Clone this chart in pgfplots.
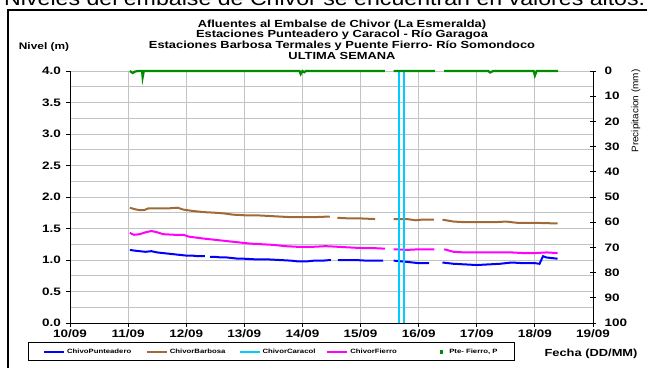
\documentclass[border=0pt]{standalone}
\usepackage{fontspec}
\setmainfont{Liberation Sans}[FakeStretch=1.25]
\newfontfamily\plainfont{Liberation Sans}[FakeStretch=1.05]
\usepackage{pgfplots}
\usepackage{pgfplotstable}
\pgfplotsset{compat=1.18}
\definecolor{cbrown}{RGB}{160,106,56}
\definecolor{ccyan}{RGB}{0,204,255}
\definecolor{cgreen}{RGB}{0,140,0}
\definecolor{cgrid}{RGB}{195,195,195}
\definecolor{cmag}{RGB}{255,0,255}
\definecolor{cblue}{RGB}{0,0,255}
\pgfplotsset{
  mylegline/.style={legend image code/.code={\draw[##1] (0pt,0pt) -- (20pt,0pt);}},
  mylegsq/.style={legend image code/.code={\path[draw=none,fill=none] (0pt,-1pt) rectangle (20pt,1pt); \fill[##1] (12.8pt,-1.2pt) rectangle (15.2pt,1.2pt);}},
}

\pgfplotstableread{
x y
11.03 1.16
11.10 1.15
11.20 1.14
11.30 1.13
11.40 1.14
11.50 1.12
11.60 1.11
11.70 1.10
11.80 1.09
11.90 1.08
12.00 1.07
12.10 1.07
12.20 1.06
12.32 1.06
12.36 nan
12.41 1.05
12.50 1.05
12.60 1.04
12.70 1.04
12.80 1.03
12.90 1.02
13.00 1.02
13.20 1.01
13.40 1.01
13.60 1.00
13.80 0.99
13.90 0.98
14.00 0.98
14.10 0.98
14.20 0.99
14.35 0.99
14.49 1.00
14.55 nan
14.61 1.00
14.70 1.00
14.90 1.00
15.10 0.99
15.39 0.99
15.45 nan
15.57 0.99
15.80 0.97
16.00 0.95
16.18 0.95
16.30 nan
16.41 0.96
16.60 0.94
16.80 0.93
17.00 0.92
17.20 0.93
17.40 0.94
17.60 0.96
17.80 0.95
18.00 0.95
18.08 0.94
18.14 1.06
18.20 1.04
18.30 1.03
18.39 1.02
}\punt

\pgfplotstableread{
x y
11.03 1.83
11.10 1.81
11.20 1.79
11.27 1.79
11.35 1.82
11.50 1.82
11.70 1.82
11.85 1.83
11.95 1.80
12.10 1.78
12.30 1.76
12.50 1.75
12.65 1.74
12.80 1.72
13.00 1.71
13.20 1.71
13.40 1.70
13.60 1.69
13.80 1.68
14.00 1.68
14.20 1.68
14.47 1.69
14.53 nan
14.60 1.67
14.80 1.66
15.00 1.66
15.25 1.65
15.40 nan
15.57 1.65
15.80 1.65
15.95 1.63
16.05 1.64
16.26 1.64
16.33 nan
16.41 1.64
16.60 1.61
16.80 1.60
17.00 1.60
17.30 1.60
17.50 1.61
17.70 1.59
18.00 1.59
18.39 1.58
}\barb

\pgfplotstableread{
x y
11.03 1.43
11.10 1.40
11.20 1.41
11.30 1.44
11.40 1.46
11.50 1.44
11.60 1.41
11.80 1.40
11.95 1.40
12.05 1.37
12.30 1.34
12.50 1.32
12.70 1.30
12.90 1.28
13.10 1.26
13.30 1.25
13.50 1.24
13.70 1.22
13.90 1.21
14.20 1.21
14.40 1.22
14.60 1.21
14.80 1.20
15.00 1.19
15.20 1.19
15.42 1.18
15.50 nan
15.57 1.17
15.80 1.16
16.00 1.17
16.27 1.17
16.35 nan
16.44 1.17
16.60 1.13
16.80 1.12
17.00 1.12
17.30 1.12
17.60 1.12
17.80 1.11
18.00 1.11
18.20 1.12
18.39 1.11
}\fierro

\pgfplotstableread{
x y
15.665 0
15.665 4.0
15.700 nan
15.745 4.0
15.745 0
}\cara

\pgfplotstableread{
x y
11.03 0
11.08 0.8
11.12 0.2
11.18 0
11.24 0
11.25 2.5
11.27 0
12.00 0
13.00 0
13.95 0
13.97 1.2
14.00 0
14.03 0.5
14.06 0
15.00 0
15.42 0
15.50 nan
15.57 0
16.28 0
16.36 nan
16.44 0
17.20 0
17.23 0.6
17.28 0
17.98 0
18.00 1.8
18.03 0
18.40 0
}\precip

\begin{document}
\begin{tikzpicture}[x=1pt,y=1pt]
\useasboundingbox (0,0) rectangle (647,367);
\draw[line width=1.3pt] (8,-5) -- (8,357) -- (655,357);
\node[anchor=base west, inner sep=0] at (4,361.3) {\resizebox{641pt}{14.5pt}{\plainfont Niveles del embalse de Chivor se encuentran en valores altos.}};

\begin{axis}[
  at={(70pt,44pt)}, anchor=south west,
  width=523pt, height=252pt, scale only axis,
  xmin=10, xmax=19, ymin=0, ymax=4,
  axis x line*=bottom, axis y line*=left,
  xtick={10,...,19},
  xticklabels={10/09,11/09,12/09,13/09,14/09,15/09,16/09,17/09,18/09,19/09},
  ytick={0,0.5,...,4},
  yticklabels={0.0,0.5,1.0,1.5,2.0,2.5,3.0,3.5,4.0},
  minor ytick={0.25,0.75,...,3.8},
  grid=both,
  major grid style={cgrid, line width=0.9pt},
  minor grid style={cgrid, line width=0.9pt},
  tick align=outside, major tick length=4pt, minor tick length=0pt,
  tick style={black, line width=0.8pt},
  axis line style={black, line width=1pt},
  ticklabel style={font=\fontsize{10.8}{12}\selectfont\bfseries},
  yticklabel style={xshift=-1.5pt},
  xticklabel style={yshift=0.5pt},
  unbounded coords=jump,
]
\addplot[cbrown, line width=2pt] table {\barb};
\addplot[cmag, line width=2pt] table {\fierro};
\addplot[cblue, line width=2pt] table {\punt};
\addplot[ccyan, line width=1.8pt] table {\cara};
\end{axis}

\begin{axis}[
  at={(70pt,44pt)}, anchor=south west,
  width=523pt, height=252pt, scale only axis,
  xmin=10, xmax=19, ymin=0, ymax=100, y dir=reverse,
  axis x line=none, axis y line*=right,
  ytick={0,10,...,100},
  tick align=center, major tick length=6pt,
  tick style={black, line width=0.8pt},
  axis line style={black, line width=1pt},
  ticklabel style={font=\fontsize{10.8}{12}\selectfont\bfseries},
  /pgf/number format/assume math mode=true,
  yticklabel style={anchor=west, xshift=5pt},
  unbounded coords=jump,
  clip=false,
  legend columns=5,
  legend cell align=left,
  legend style={at={(-0.0803,-0.1508)}, anchor=south west, draw=black, line width=0.6pt,
    font=\fontsize{6.2}{7}\selectfont\bfseries, inner xsep=15pt, inner ysep=4pt,
    nodes={inner sep=2pt}},
]
\addlegendimage{mylegline, cblue, line width=1.8pt}
\addlegendentry{\makebox[77pt][l]{ChivoPunteadero}}
\addlegendimage{mylegline, cbrown, line width=1.8pt}
\addlegendentry{\makebox[67pt][l]{ChivorBarbosa}}
\addlegendimage{mylegline, ccyan, line width=1.6pt}
\addlegendentry{\makebox[62pt][l]{ChivorCaracol}}
\addlegendimage{mylegline, cmag, line width=1.8pt}
\addlegendentry{\makebox[75pt][l]{ChivorFierro}}
\addlegendimage{mylegsq, cgreen}
\addlegendentry{Pte- Fierro, P}
\addplot[cgreen, line width=2.2pt, forget plot] table {\precip};
\end{axis}

\node[anchor=base, font=\fontsize{10.3}{12}\selectfont\bfseries] at (342,339.7) {Afluentes al Embalse de Chivor (La Esmeralda)};
\node[anchor=base, font=\fontsize{10.3}{12}\selectfont\bfseries] at (342,329.3) {Estaciones Punteadero y Caracol - Río Garagoa};
\node[anchor=base, font=\fontsize{10.3}{12}\selectfont\bfseries] at (342,318.2) {Estaciones Barbosa Termales y Puente Fierro- Río Somondoco};
\node[anchor=base, font=\fontsize{10.3}{12}\selectfont\bfseries] at (342,307.7) {ULTIMA SEMANA};
\node[font=\fontsize{9.5}{10}\selectfont\bfseries] at (44,320) {Nivel (m)};
\node[font=\fontsize{10.3}{12}\selectfont\bfseries] at (591,13) {Fecha (DD/MM)};
\node[rotate=90, font=\fontsize{9.5}{10}\plainfont] at (636,256) {Precipitacion (mm)};
\end{tikzpicture}
\end{document}
